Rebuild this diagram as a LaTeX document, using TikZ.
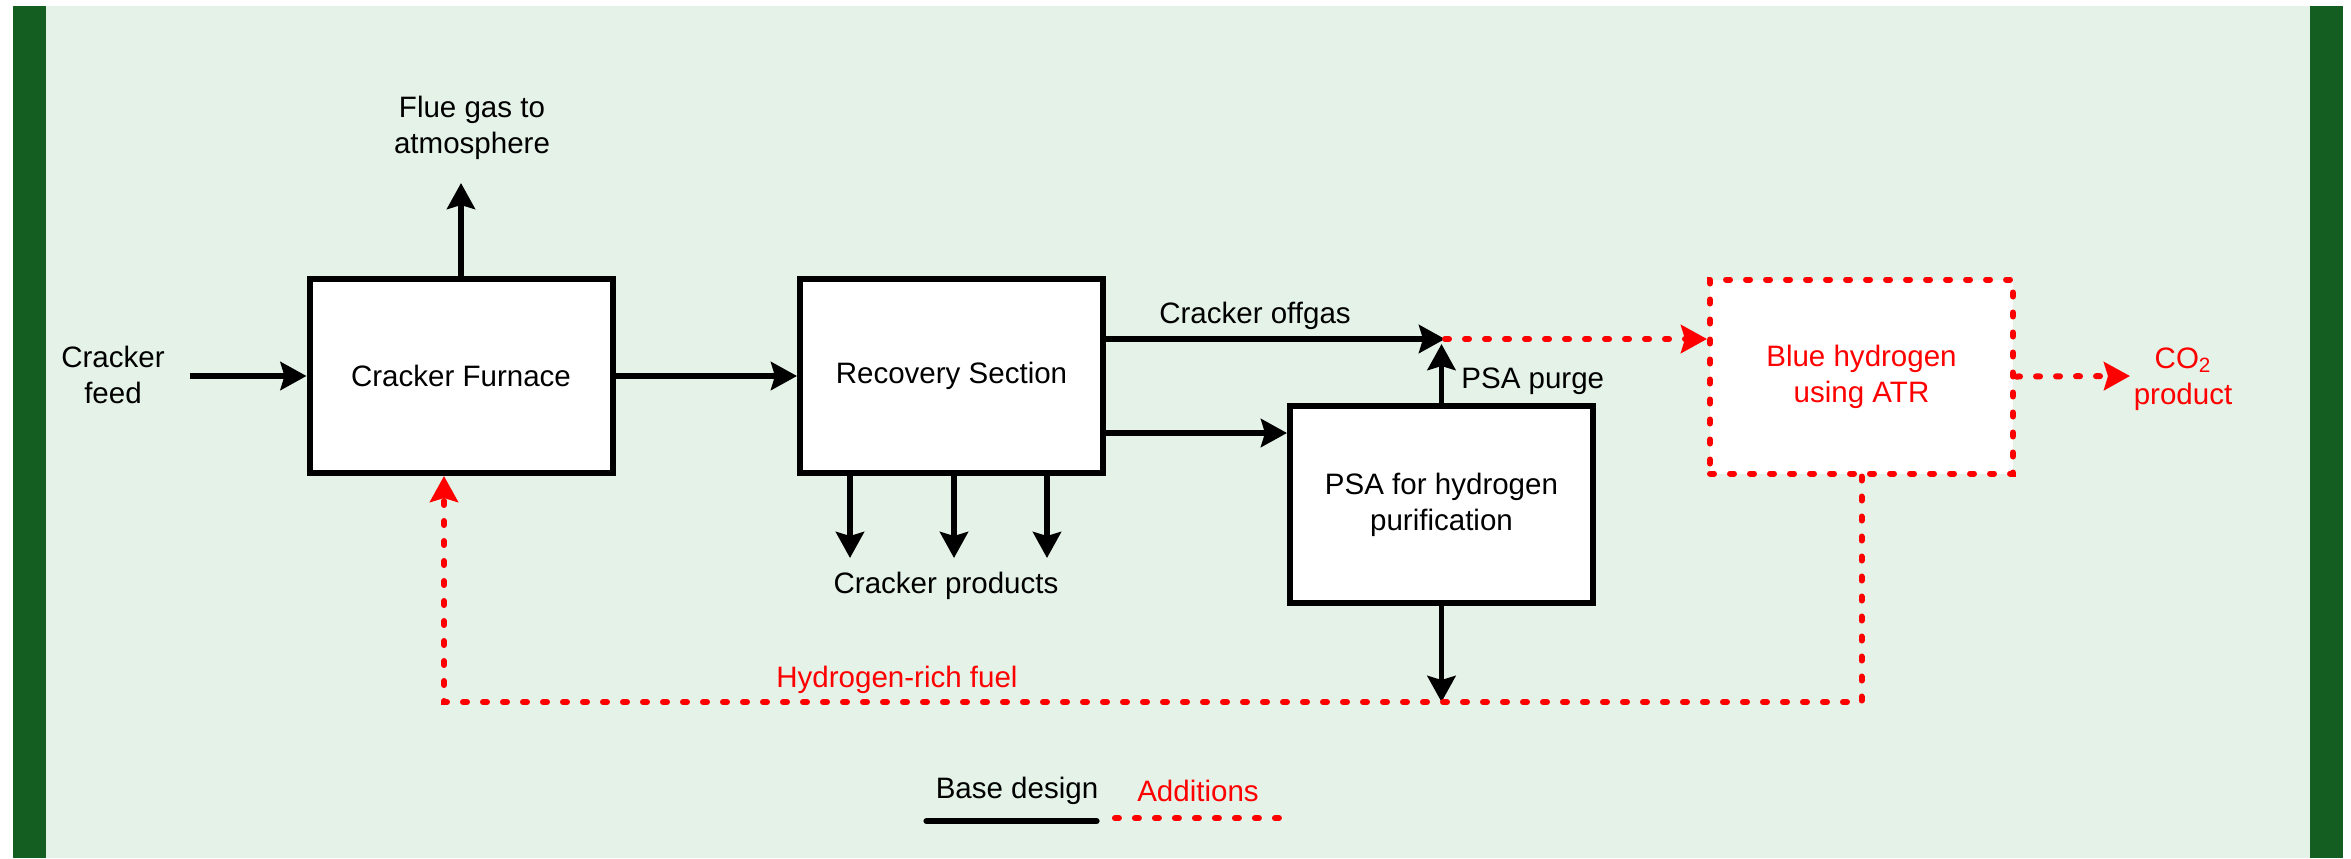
\documentclass[tikz,border=0pt]{standalone}
\usepackage{fontspec}
\setmainfont{Liberation Sans}
\usepackage{tikz}
\usetikzlibrary{
    positioning,
    arrows.meta,
    calc
}
\definecolor{bargreen}{HTML}{135E20}
\definecolor{panelgreen}{HTML}{E4F2E7}
\definecolor{addred}{HTML}{FF0000}
\tikzset{
    unit/.style={
        shape=rectangle, align=center, draw=#1, fill=white, line width=1.2mm,
        minimum width=60.6mm, minimum height=38.8mm, inner sep=0pt
    },
    flow/.style={
        line width=1.1mm,
        -{Stealth[length=5.2mm, width=5.6mm, inset=0.8mm]}
    },
    addition/.style={
        draw=addred, line width=1.2mm, line cap=round,
        dash pattern=on 0.8mm off 3.2mm
    },
    addflow/.style={
        addition,
        -{Stealth[length=5.2mm, width=5.6mm, inset=0.8mm, fill=addred]}
    },
    tag/.style={
        align=center, inner sep=0pt, text=#1
    },
}

\begin{document}
\begin{tikzpicture}[x=0.2mm, y=-0.2mm, every node/.append style={font=\fontsize{16.8pt}{20.5pt}\selectfont}]
    \useasboundingbox (0,0) rectangle (2351,858);
    % frame
    \fill[bargreen] (13,6) rectangle (2343,858);
    \fill[panelgreen] (46,6) rectangle (2310,858);

    % units
    \node[unit=black] (furnace) at (461,376) {Cracker Furnace};
    \node[unit=black] (recovery) at (951.5,376) {Recovery Section};
    \node[unit=black, minimum height=39.4mm] (psa) at (1441.5,504.5) {PSA for hydrogen\\purification};
    \node[unit=addred, addition, text=addred] (atr) at (1861.5,376.5) {Blue hydrogen\\using ATR};

    % labels
    \node[tag=black] (feedtag) at (113,375) {Cracker\\feed};
    \node[tag=black] (fluetag) at (472,128) {Flue gas to\\atmosphere};
    \node[tag=black] (offgastag) at (1255,316) {Cracker offgas};
    \node[tag=black, anchor=west] (purgetag) at (1461,381) {PSA purge};
    \node[tag=black] (productstag) at (946,586) {Cracker products};
    \node[tag=addred] (fueltag) at (897,680) {Hydrogen-rich fuel};
    \node[tag=addred] (co2tag) at (2183,379) {CO\textsubscript{2}\\product};

    \coordinate (feed) at (190,376);
    \coordinate (flue) at (461,183);
    \coordinate (merge) at (1445,339);
    \coordinate (psain) at ($(psa.north west)+(0,30)$);
    \coordinate (co2) at (2130,376);
    \coordinate (fuelrow) at (0,702);
    \coordinate (fuelin) at ([xshift=-3.4mm]furnace.south);

    % base design
    \draw[flow] (feed) -- (furnace.west |- feed);
    \draw[flow] (furnace.north) -- (flue);
    \draw[flow] (furnace) -- (recovery);
    \draw[flow] (recovery.east |- merge) -- (merge);
    \draw[flow] (recovery.east |- psain) -- (psain);
    \draw[flow, shorten >=1mm] (psa.north) -- (psa.north |- merge);
    \foreach \dx in {53,157,250}
        \draw[flow] ($(recovery.south west)+(\dx,0)$) -- ++(0,82);
    \draw[flow] (psa.south) -- (psa.south |- fuelrow);

    % additions
    \draw[addflow] (merge) -- (atr.west |- merge);
    \draw[addflow] (atr.east) -- (co2);
    \draw[addflow] (atr.south) -- (atr.south |- fuelrow) -- (fuelin |- fuelrow) -- (fuelin);

    % legend
    \node[tag=black] (basetag) at (1017,791) {Base design};
    \node[tag=addred] (addtag) at (1198,791) {Additions};
    \draw[line width=1.2mm, line cap=round] ($(basetag.south west)+(-9,16)$) -- ($(basetag.south east)+(-2,16)$);
    \draw[addition] ($(addtag.south west)+(-22,16)$) -- ($(addtag.south east)+(27,16)$);
\end{tikzpicture}
\end{document}
